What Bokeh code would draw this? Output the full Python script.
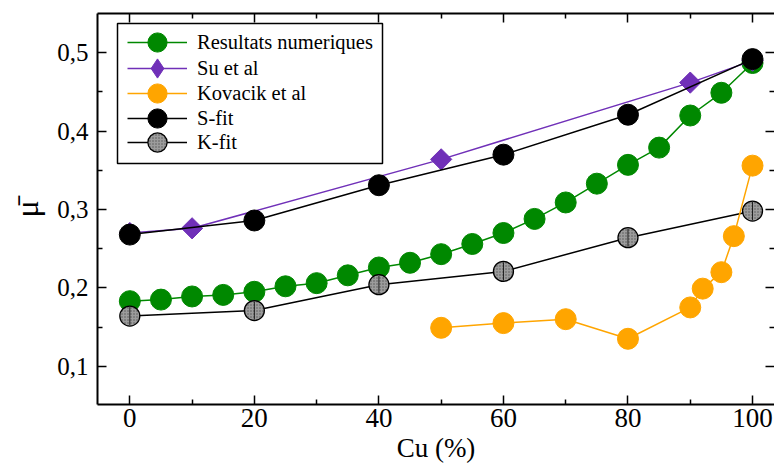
import math
from bokeh.plotting import figure
from bokeh.models import (LinearAxis, FixedTicker, CustomJSTickFormatter, Legend,
                          LegendItem, Range1d, BoxAnnotation)
from bokeh.embed import file_html
from bokeh.resources import INLINE

# ---- data ----
cu_num = [0, 5, 10, 15, 20, 25, 30, 35, 40, 45, 50, 55, 60, 65, 70, 75, 80, 85, 90, 95, 100]
mu_num = [0.183, 0.185, 0.189, 0.191, 0.195, 0.202, 0.206, 0.216, 0.226, 0.232, 0.243,
          0.256, 0.270, 0.288, 0.309, 0.333, 0.357, 0.379, 0.420, 0.449, 0.487]
cu_su = [0, 10, 50, 90, 100]
mu_su = [0.270, 0.276, 0.364, 0.462, 0.490]
cu_kov = [50, 60, 70, 80, 90, 92, 95, 97, 100]
mu_kov = [0.149, 0.155, 0.160, 0.135, 0.175, 0.199, 0.220, 0.266, 0.356]
cu_fit = [0, 20, 40, 60, 80, 100]
mu_sfit = [0.268, 0.286, 0.331, 0.370, 0.421, 0.492]
mu_kfit = [0.164, 0.171, 0.204, 0.221, 0.264, 0.298]

series_labels = ["Resultats numeriques", "Su et al", "Kovacik et al", "S-fit", "K-fit"]
x_ticks = [0, 20, 40, 60, 80, 100]
x_minor = [10, 30, 50, 70, 90]
y_ticks = [0.1, 0.2, 0.3, 0.4, 0.5]
y_minor = [0.15, 0.25, 0.35, 0.45]
x_title = "Cu (%)"
y_title = "\u03bc\u0304"

GREEN = "#008800"
PURPLE = "#7030B8"
ORANGE = "#FFA500"
GRAY = "#9C9C9C"
FONT = "Liberation Serif"

p = figure(width=774, height=465, output_backend="svg", toolbar_location=None,
           x_range=Range1d(-5.19, 103.53), y_range=Range1d(0.0511, 0.5502),
           min_border_left=97, min_border_right=0, min_border_top=13, min_border_bottom=61)
p.outline_line_color = None
p.grid.visible = False
p.background_fill_color = "white"
p.border_fill_color = "white"

fmt = CustomJSTickFormatter(code="return tick.toFixed(1).replace('.', ',');")


def style_axis(ax, ticks, minor, label_size, show_labels=True, line=True):
    ax.ticker = FixedTicker(ticks=ticks, minor_ticks=minor)
    ax.axis_line_color = "black" if line else None
    ax.axis_line_width = 2
    ax.major_tick_in = 9
    ax.major_tick_out = 0
    ax.minor_tick_in = 5
    ax.minor_tick_out = 0
    ax.major_tick_line_width = 1.5
    ax.minor_tick_line_width = 1.5
    ax.major_tick_line_color = "black"
    ax.minor_tick_line_color = "black"
    ax.major_label_text_font = FONT
    if show_labels:
        ax.major_label_text_font_size = label_size
        ax.major_label_text_color = "black"
    else:
        ax.major_label_text_font_size = "1px"
        ax.major_label_text_color = None
        ax.major_label_standoff = 0


xa = p.xaxis[0]
style_axis(xa, x_ticks, x_minor, "27px")
xa.major_label_standoff = 4
xa.axis_label = x_title
xa.axis_label_text_font = FONT
xa.axis_label_text_font_style = "normal"
xa.axis_label_text_font_size = "27px"
xa.axis_label_text_color = "black"
xa.axis_label_standoff = 3

ya = p.yaxis[0]
style_axis(ya, y_ticks, y_minor, "25px")
ya.formatter = fmt
ya.major_label_standoff = 9
ya.axis_label = y_title
ya.axis_label_text_font = FONT
ya.axis_label_text_font_style = "normal"
ya.axis_label_text_font_size = "32px"
ya.axis_label_text_color = "black"
ya.axis_label_standoff = 9

top = LinearAxis()
style_axis(top, x_ticks, x_minor, "0px", show_labels=False)
p.add_layout(top, "above")

right = LinearAxis()
style_axis(right, y_ticks, y_minor, "0px", show_labels=False, line=False)
p.add_layout(right, "right")

# ---- series ----
g_line = p.line(cu_num, mu_num, line_color=GREEN, line_width=1.5)
g_pts = p.scatter(cu_num, mu_num, marker="circle", size=21, fill_color=GREEN, line_color=GREEN)

k_line = p.line(cu_fit, mu_kfit, line_color="black", line_width=1.5)
k_pts = p.scatter(cu_fit, mu_kfit, marker="circle", size=20, fill_color=GRAY, line_color="black",
                  line_width=1.3, hatch_pattern="dot", hatch_color="black", hatch_alpha=0.45,
                  hatch_scale=3, hatch_weight=1)
k_bar = p.scatter(cu_fit, mu_kfit, marker="dash", size=18, angle=math.pi / 2,
                  line_color="black", line_width=0.8)

o_line = p.line(cu_kov, mu_kov, line_color=ORANGE, line_width=1.5)
o_pts = p.scatter(cu_kov, mu_kov, marker="circle", size=21, fill_color=ORANGE, line_color=ORANGE)

s_line = p.line(cu_su, mu_su, line_color=PURPLE, line_width=1.5)
s_pts = p.scatter(cu_su, mu_su, marker="square", size=15, angle=math.pi / 4,
                  fill_color=PURPLE, line_color=PURPLE)
# diamond swatch for the legend (zero size in the plot itself)
s_key = p.scatter(cu_su, mu_su, marker="diamond", size=0, fill_color=PURPLE, line_color=PURPLE)

f_line = p.line(cu_fit, mu_sfit, line_color="black", line_width=1.5)
f_pts = p.scatter(cu_fit, mu_sfit, marker="circle", size=21, fill_color="black", line_color="black")

# legend frame (screen units, relative to the plot frame)
box = BoxAnnotation(left=20, right=285, bottom=241, top=381,
                    left_units="screen", right_units="screen",
                    top_units="screen", bottom_units="screen",
                    fill_color="white", fill_alpha=1.0,
                    line_color="black", line_width=1.5, line_alpha=1.0)
p.add_layout(box)

entry_renderers = [
    [g_line, g_pts],
    [s_line, s_key],
    [o_line, o_pts],
    [f_line, f_pts],
    [k_line, k_pts],
]
entry_bottoms = [338, 312, 287, 262, 238]   # screen offsets of each legend entry
for lab, rends, yb in zip(series_labels, entry_renderers, entry_bottoms):
    lg = Legend(items=[LegendItem(label=lab, renderers=rends)], location=(30, yb),
                margin=0, padding=0, spacing=0,
                glyph_width=60, glyph_height=48, label_height=48, label_standoff=10,
                label_text_font=FONT, label_text_font_size="20.5px", label_text_color="black",
                border_line_color=None, background_fill_alpha=0.0)
    p.add_layout(lg)

open("out.html", "w").write(file_html(p, INLINE))
